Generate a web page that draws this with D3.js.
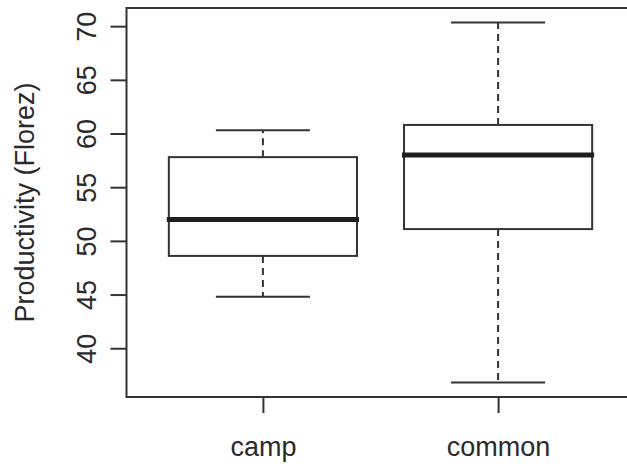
<!DOCTYPE html>
<html lang="en">
<head>
	<meta charset="UTF-8">
	<title>Productivity boxplot</title>
	<script src="https://cdn.jsdelivr.net/npm/d3@7/dist/d3.min.js"></script>
	<style>
		html, body{
			margin: 0;
			padding: 0;
			background: #fff;
		}
		svg{
			display: block;
		}
		text{
			font-family: "Liberation Sans", Arial, sans-serif;
			font-size: 27px;
			fill: #2a2a2a;
		}
	</style>
</head>
<body>
	<div class="chart"></div>
	<script>
		// values
		var categories = ['camp', 'common'];
		var whiskerLow = [44.8, 36.8];
		var q1 = [48.6, 51.1];
		var median = [52.0, 58.0];
		var q3 = [57.8, 60.8];
		var whiskerHigh = [60.3, 70.35];
		var yTicks = [40, 45, 50, 55, 60, 65, 70];

		var width = 627;
		var height = 464;
		var plot = { left: 126.5, right: 634.5, top: 8, bottom: 397 };

		var lo = d3.min(whiskerLow), hi = d3.max(whiskerHigh);
		var pad = (hi - lo) * 0.04;

		var xScale = d3.scaleLinear()
						.domain([0.42, categories.length + 0.58])
						.range([plot.left, plot.right]);
		var yScale = d3.scaleLinear()
						.domain([lo - pad, hi + pad])
						.range([plot.bottom, plot.top]);

		var svg = d3.select('.chart')
					.append('svg')
					.attr('width', width)
					.attr('height', height);

		var stroke = '#333';

		// frame around the plot region
		svg.append('rect')
			.attr('x', plot.left)
			.attr('y', plot.top)
			.attr('width', plot.right - plot.left)
			.attr('height', plot.bottom - plot.top)
			.attr('fill', 'none')
			.attr('stroke', stroke)
			.attr('stroke-width', 2);

		// y axis
		var yAxis = d3.axisLeft(yScale)
						.tickValues(yTicks)
						.tickSize(16)
						.tickPadding(0)
						.tickFormat(d3.format('d'));
		var gy = svg.append('g')
					.attr('transform', 'translate(' + plot.left + ',0)')
					.call(yAxis);
		gy.select('.domain').remove();
		gy.selectAll('.tick line').attr('stroke', stroke).attr('stroke-width', 2);
		gy.selectAll('.tick text')
			.attr('x', null).attr('dy', null)
			.attr('text-anchor', 'middle')
			.attr('transform', 'translate(-31,0) rotate(-90)')
			.attr('font-size', null).attr('font-family', null).attr('fill', null);

		// x axis
		var xAxis = d3.axisBottom(xScale)
						.tickValues(d3.range(1, categories.length + 1))
						.tickSize(16)
						.tickPadding(0)
						.tickFormat(function(d){ return categories[d - 1]; });
		var gx = svg.append('g')
					.attr('transform', 'translate(0,' + plot.bottom + ')')
					.call(xAxis);
		gx.select('.domain').remove();
		gx.selectAll('.tick line').attr('stroke', stroke).attr('stroke-width', 2);
		gx.selectAll('.tick text')
			.attr('y', 59).attr('dy', null)
			.attr('font-size', null).attr('font-family', null).attr('fill', null);

		// y label
		svg.append('text')
			.attr('transform', 'translate(34,' + ((plot.top + plot.bottom) / 2) + ') rotate(-90)')
			.attr('text-anchor', 'middle')
			.text('Productivity (Florez)');

		// boxes
		var idx = d3.range(categories.length);
		var boxes = svg.append('g')
					  .selectAll('g')
					  .data(idx)
					  .enter()
					  .append('g');

		// dashed whiskers
		boxes.append('line')
			.attr('x1', function(i){ return xScale(i + 1); })
			.attr('x2', function(i){ return xScale(i + 1); })
			.attr('y1', function(i){ return yScale(q3[i]); })
			.attr('y2', function(i){ return yScale(whiskerHigh[i]); })
			.attr('stroke', stroke).attr('stroke-width', 2)
			.attr('stroke-dasharray', '7,5');
		boxes.append('line')
			.attr('x1', function(i){ return xScale(i + 1); })
			.attr('x2', function(i){ return xScale(i + 1); })
			.attr('y1', function(i){ return yScale(q1[i]); })
			.attr('y2', function(i){ return yScale(whiskerLow[i]); })
			.attr('stroke', stroke).attr('stroke-width', 2)
			.attr('stroke-dasharray', '7,5');

		// whisker caps
		[whiskerLow, whiskerHigh].forEach(function(arr){
			boxes.append('line')
				.attr('x1', function(i){ return xScale(i + 0.8); })
				.attr('x2', function(i){ return xScale(i + 1.2); })
				.attr('y1', function(i){ return yScale(arr[i]); })
				.attr('y2', function(i){ return yScale(arr[i]); })
				.attr('stroke', stroke).attr('stroke-width', 2);
		});

		boxes.append('rect')
			.attr('x', function(i){ return xScale(i + 0.6); })
			.attr('width', function(i){ return xScale(i + 1.4) - xScale(i + 0.6); })
			.attr('y', function(i){ return yScale(q3[i]); })
			.attr('height', function(i){ return yScale(q1[i]) - yScale(q3[i]); })
			.attr('fill', '#fff')
			.attr('stroke', stroke).attr('stroke-width', 2);

		boxes.append('line')
			.attr('x1', function(i){ return xScale(i + 0.6) - 2; })
			.attr('x2', function(i){ return xScale(i + 1.4) + 2; })
			.attr('y1', function(i){ return yScale(median[i]); })
			.attr('y2', function(i){ return yScale(median[i]); })
			.attr('stroke', '#1e1e1e').attr('stroke-width', 5);
	</script>
</body>
</html>
